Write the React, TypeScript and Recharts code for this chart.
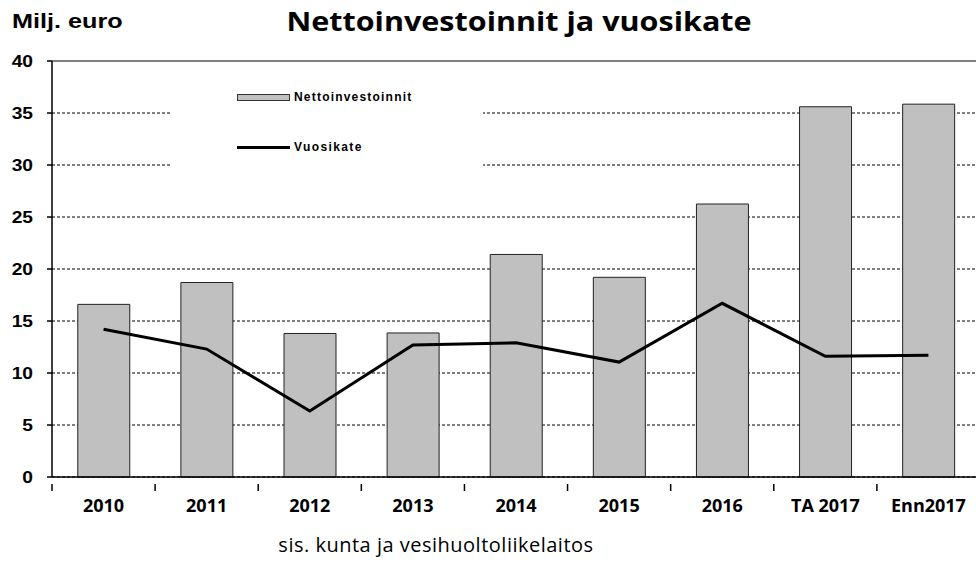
import { ComposedChart, Bar, Line, XAxis, YAxis, CartesianGrid, ReferenceLine } from 'recharts';

// Data
const years = ['2010', '2011', '2012', '2013', '2014', '2015', '2016', 'TA 2017', 'Enn2017'];
const nettoinvestoinnit = [16.6, 18.7, 13.8, 13.85, 21.4, 19.2, 26.25, 35.6, 35.85];
const vuosikate = [14.2, 12.3, 6.35, 12.7, 12.9, 11.05, 16.7, 11.6, 11.7];
const yTicks = [0, 5, 10, 15, 20, 25, 30, 35, 40];

const data = years.map((year, i) => ({
    year,
    Nettoinvestoinnit: nettoinvestoinnit[i],
    Vuosikate: vuosikate[i],
}));

const YTick = ({ x, y, payload }: any) => (
    <g>
        <line x1={x + 14} x2={x + 19} y1={y} y2={y} stroke="#000" strokeWidth={1.5} />
        <text
            x={0}
            y={0}
            transform={`translate(${x},${y}) scale(1.2,1)`}
            textAnchor="end"
            dy="0.36em"
            fontFamily="'Liberation Sans', Arial, sans-serif"
            fontWeight="bold"
            fontSize={16}
            fill="#000"
        >
            {payload.value}
        </text>
    </g>
);

const XTick = ({ x, y, payload }: any) => {
    const half = payload.offset || 51.5;
    return (
        <g>
            <line x1={x - half} x2={x - half} y1={y - 1} y2={y + 6} stroke="#000" strokeWidth={1.5} />
            <text
                x={x}
                y={y + 21}
                textAnchor="middle"
                dy="0.36em"
                fontFamily="'Open Sans', sans-serif"
                fontWeight="bold"
                fontSize={18}
                fill="#000"
            >
                {payload.value}
            </text>
        </g>
    );
};

const LegendBox = () => (
    <div style={{ position: 'absolute', left: 170, top: 74, width: 313, height: 106, background: '#fff', fontFamily: "'Liberation Sans', Arial, sans-serif", fontWeight: 'bold', fontSize: 12, letterSpacing: 1.2 }}>
        <div style={{ position: 'absolute', left: 67, top: 16, display: 'flex', alignItems: 'center' }}>
            <div style={{ width: 51, height: 5, background: '#c0c0c0', border: '1px solid #333' }} />
            <span style={{ marginLeft: 4 }}>Nettoinvestoinnit</span>
        </div>
        <div style={{ position: 'absolute', left: 67, top: 66, display: 'flex', alignItems: 'center' }}>
            <div style={{ width: 53, height: 3, background: '#000' }} />
            <span style={{ marginLeft: 4, letterSpacing: 1.4 }}>Vuosikate</span>
        </div>
    </div>
);

const App = () => (
    <div style={{ position: 'fixed', left: 0, top: 0, width: 976, height: 565, overflow: 'hidden', background: '#fff' }}>
        <div style={{ position: 'absolute', left: 12, top: 9, fontFamily: "'Liberation Sans', Arial, sans-serif", fontWeight: 'bold', fontSize: 21, transform: 'scaleX(1.2)', transformOrigin: 'left' }}>
            Milj. euro
        </div>
        <div style={{ position: 'absolute', left: 0, width: 1038, top: 2, textAlign: 'center', fontFamily: "'Open Sans', sans-serif", fontWeight: 'bold', fontSize: 27, transform: 'scaleX(1.13)', transformOrigin: '519px 0' }}>
            Nettoinvestoinnit ja vuosikate
        </div>
        <div style={{ position: 'absolute', left: 0, width: 872, top: 531, textAlign: 'center', fontFamily: "'Open Sans', sans-serif", fontSize: 20, letterSpacing: 0.5 }}>
            sis. kunta ja vesihuoltoliikelaitos
        </div>
        <ComposedChart
            width={980}
            height={565}
            data={data}
            margin={{ top: 61, right: 0, left: 0, bottom: 0 }}
            barCategoryGap="25%"
        >
            <CartesianGrid vertical={false} stroke="#000" strokeDasharray="3 2" />
            <XAxis
                dataKey="year"
                height={88}
                axisLine={{ stroke: '#000', strokeWidth: 1.5 }}
                tickLine={false}
                tick={<XTick />}
                interval={0}
            />
            <YAxis
                width={52}
                domain={[0, 40]}
                ticks={yTicks}
                axisLine={{ stroke: '#000', strokeWidth: 1.5 }}
                tickLine={false}
                tickSize={5}
                tickMargin={14}
                tick={<YTick />}
            />
            <ReferenceLine y={40} stroke="#808080" strokeWidth={2} />
            <Bar dataKey="Nettoinvestoinnit" fill="#c0c0c0" stroke="#222" strokeWidth={1} isAnimationActive={false} />
            <Line dataKey="Vuosikate" stroke="#000" strokeWidth={3} dot={false} isAnimationActive={false} />
        </ComposedChart>
        <LegendBox />
    </div>
);

export default App;
